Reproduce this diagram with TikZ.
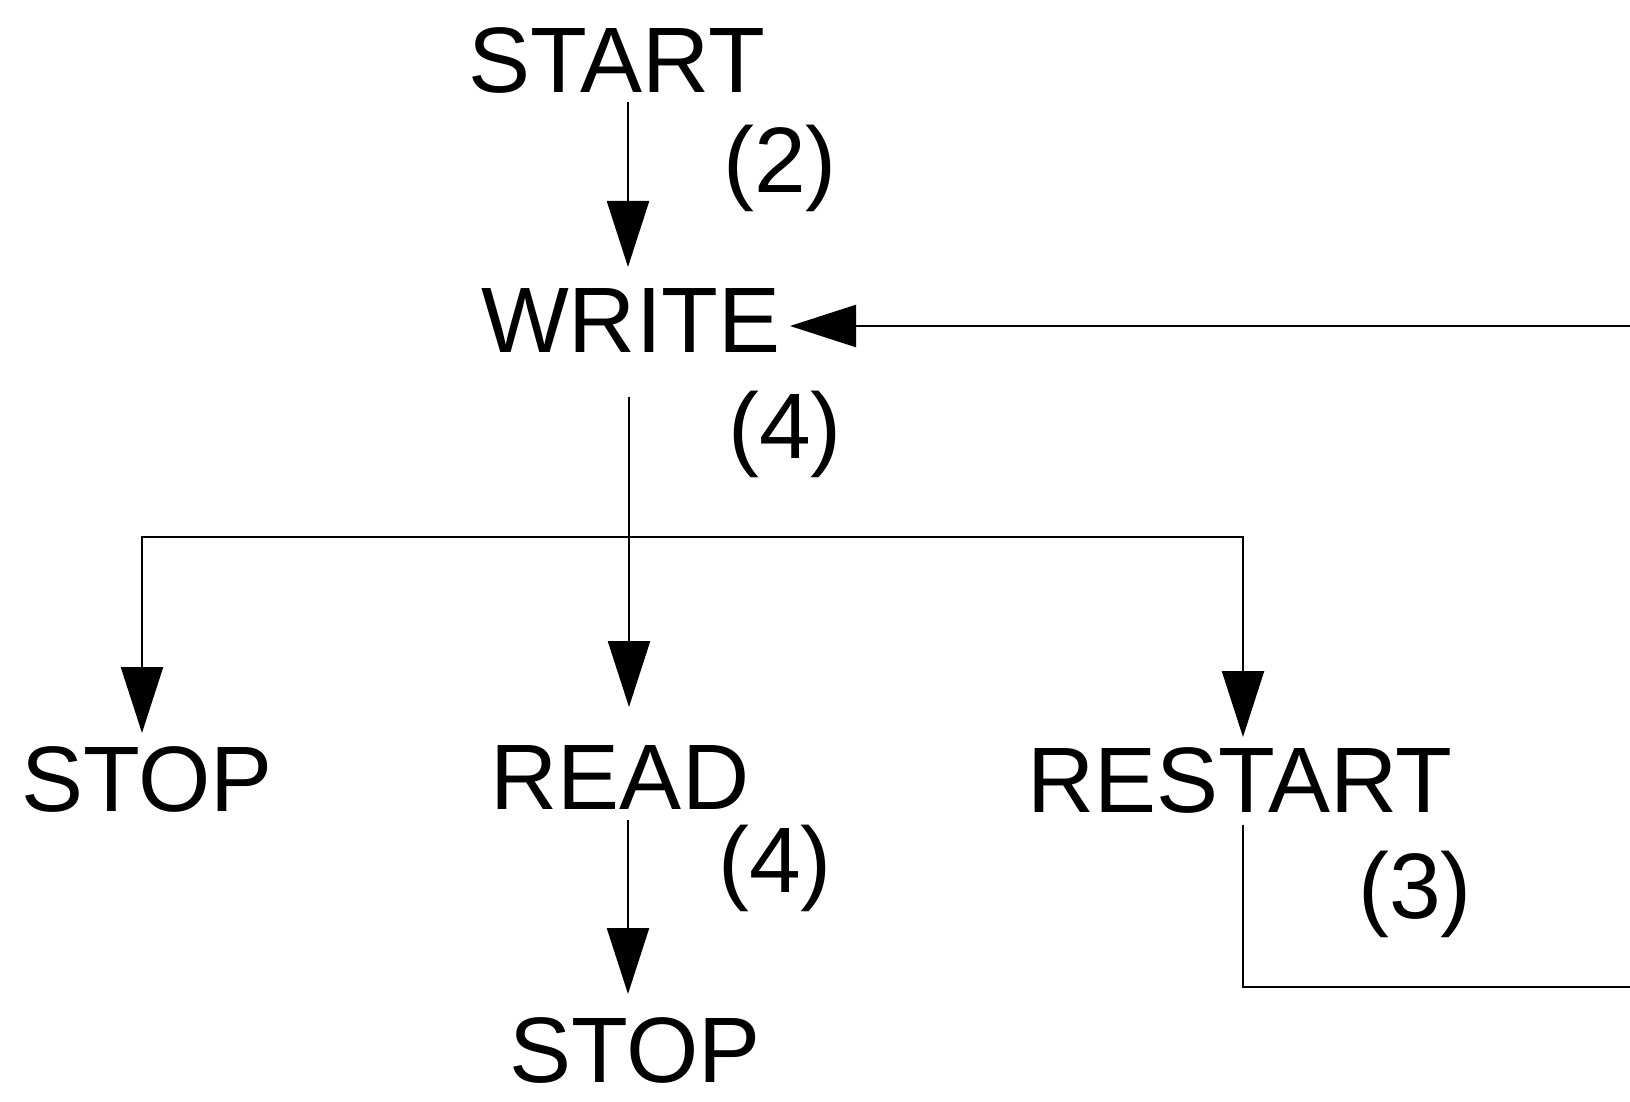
\documentclass[tikz,border=0pt]{standalone}
\usepackage{fontspec}
\setmainfont{Liberation Sans}
\usetikzlibrary{arrows.meta,calc}
\begin{document}
\begin{tikzpicture}[x=0.5pt,y=-0.5pt,
  lbl/.style={inner sep=0pt,anchor=base,font=\fontsize{46.5}{56}\selectfont},
  conn/.style={line width=1.2pt,draw=black},
  arr/.style={conn,-{Triangle[length=33pt,width=21pt]}}]
\useasboundingbox[fill=white] (0,0) rectangle (1630,1102);
% nodes
\node[lbl] (start) at (617,93) {START};
\node[lbl] (write) at (631,352) {WRITE};
\node[lbl] (stopa) at (147,811) {STOP};
\node[lbl] (read) at (620,809) {READ};
\node[lbl] (restart) at (1240,812) {RESTART};
\node[lbl] (stopb) at (635,1082) {STOP};
\node[lbl] (l2) at (780,192) {(2)};
\node[lbl] (l4a) at (785,458) {(4)};
\node[lbl] (l4b) at (775,892) {(4)};
\node[lbl] (l3) at (1415,918) {(3)};
% free ends / junctions
\coordinate (split) at (629,537);
\coordinate (outR) at (1630,987);
\coordinate (inR) at (1630,326);
% connectors
\draw[arr] ($(start.base)+(11,9)$) -- ($(write.base)+(-3,-85)$);
\draw[arr] ($(write.base)+(-2,45)$) -- (split) -- ($(read.base)+(9,-102)$);
\draw[arr] (split) -- (142,537) -- ($(stopa.base)+(-5,-78)$);
\draw[arr] (split) -- (1243,537) -- ($(restart.base)+(3,-75)$);
\draw[arr] ($(read.base)+(8,11)$) -- ($(stopb.base)+(-7,-88)$);
\draw[conn] ($(restart.base)+(3,13)$) -- (1243,987) -- (outR);
\draw[arr] (inR) -- ($(write.base)+(159,-26)$);
\end{tikzpicture}
\end{document}
